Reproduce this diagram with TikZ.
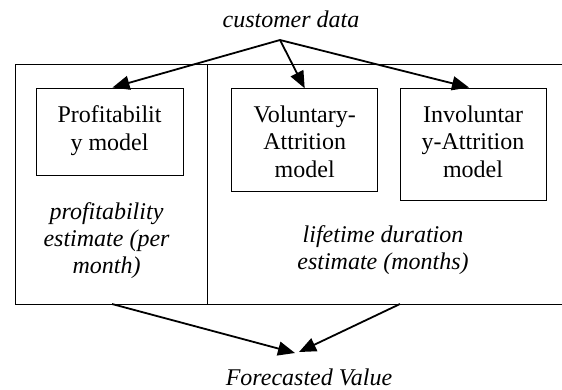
\documentclass[tikz,border=0pt]{standalone}
\usepackage{fontspec}
\setmainfont{Liberation Serif}
\usetikzlibrary{arrows.meta}
\tikzset{
  panel/.style={draw=black, line width=1pt},
  modelbox/.style={draw=black, line width=1pt, rectangle, inner sep=0pt},
  boxtext/.style={anchor=north, inner sep=0pt, align=center, font=\fontsize{24}{27.5}\selectfont},
  itext/.style={inner sep=0pt, align=center, font=\fontsize{24}{27}\selectfont\itshape},
  flow/.style={line width=1.8pt, -{Triangle[length=17pt,width=14pt]}},
}
\begin{document}
\begin{tikzpicture}[x=1pt,y=-1pt]
\useasboundingbox (0,0) rectangle (562,389);
% outer panels
\draw[panel] (562,64) -- (15,64) -- (15,304) -- (562,304);
\draw[panel] (207,64) -- (207,304);
% model boxes
\node[modelbox, minimum width=147pt, minimum height=87pt] (prof) at (109.5,131.5) {};
\node[modelbox, minimum width=146pt, minimum height=103pt] (vol) at (304.7,140.3) {};
\node[modelbox, minimum width=146pt, minimum height=112pt] (invol) at (473,144) {};
\node[boxtext] (proft) at (109.5,105.5) {Profitabilit\\y model};
\node[boxtext] (volt) at (304.7,105.5) {Voluntary-\\Attrition\\model};
\node[boxtext] (involt) at (473,105.5) {Involuntar\\y-Attrition\\model};
% italic labels
\node[itext] (cust) at (291,19) {customer data};
\node[itext, anchor=north] (profest) at (106.5,202) {profitability\\estimate (per\\month)};
\node[itext, anchor=north] (life) at (383,225.5) {lifetime duration\\estimate (months)};
\node[itext] (fv) at (309,377) {Forecasted Value};
% connector points
\coordinate (apex) at (280,40);
\coordinate (lb) at (112,304);
\coordinate (rb) at (400,304);
\coordinate (tipL) at (295,353);
\coordinate (tipR) at (299,352);
% arrows
\draw[flow] (apex) -- ([xshift=3pt]prof.north);
\draw[flow] (apex) -- (vol.north);
\draw[flow] (apex) -- ([xshift=-4pt]invol.north);
\draw[flow] (lb) -- (tipL);
\draw[flow] (rb) -- (tipR);
\end{tikzpicture}
\end{document}
